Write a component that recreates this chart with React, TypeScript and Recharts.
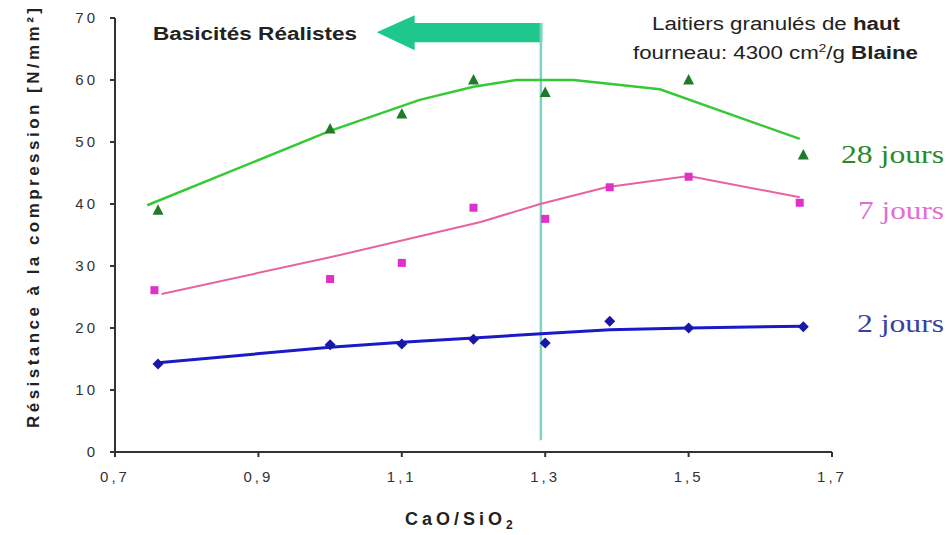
import React from 'react';
import { ScatterChart, Scatter, XAxis, YAxis, ReferenceLine, ReferenceArea, ReferenceDot } from 'recharts';

// Measured points
const xs28 = [0.76, 1.0, 1.1, 1.2, 1.3, 1.5, 1.66];
const vals28 = [39.0, 52.1, 54.5, 60.0, 58.0, 60.0, 47.9];
const xs7 = [0.755, 1.0, 1.1, 1.2, 1.3, 1.39, 1.5, 1.655];
const vals7 = [26.1, 27.9, 30.5, 39.4, 37.6, 42.7, 44.4, 40.2];
const xs2 = [0.76, 1.0, 1.1, 1.2, 1.3, 1.39, 1.5, 1.66];
const vals2 = [14.2, 17.3, 17.4, 18.2, 17.6, 21.1, 20.0, 20.2];

// Trend curves
const fitX28 = [0.745, 1.0, 1.125, 1.2, 1.26, 1.34, 1.46, 1.655];
const fitY28 = [39.8, 51.8, 56.8, 58.9, 60.0, 60.0, 58.5, 50.5];
const fitX7 = [0.765, 1.0, 1.21, 1.293, 1.385, 1.5, 1.655];
const fitY7 = [25.5, 31.4, 37.1, 40.0, 42.7, 44.5, 41.1];
const fitX2 = [0.76, 1.0, 1.1, 1.2, 1.3, 1.39, 1.5, 1.66];
const fitY2 = [14.4, 16.9, 17.7, 18.4, 19.1, 19.7, 20.0, 20.3];

const xTicks = [0.7, 0.9, 1.1, 1.3, 1.5, 1.7];
const yTicks = [0, 10, 20, 30, 40, 50, 60, 70];

const limitX = 1.294;

const zip = (xs: number[], ys: number[]) => xs.map((x, i) => ({ x, y: ys[i] }));

const pts28 = zip(xs28, vals28);
const pts7 = zip(xs7, vals7);
const pts2 = zip(xs2, vals2);
const fit28 = zip(fitX28, fitY28);
const fit7 = zip(fitX7, fitY7);
const fit2 = zip(fitX2, fitY2);

const Triangle = (p: any) => (
  <polygon points={`${p.cx},${p.cy - 6} ${p.cx - 5.5},${p.cy + 4.5} ${p.cx + 5.5},${p.cy + 4.5}`} fill="#1f7a2a" />
);
const Square = (p: any) => <rect x={p.cx - 4} y={p.cy - 4} width={8} height={8} fill="#e030c8" />;
const Diamond = (p: any) => (
  <polygon points={`${p.cx},${p.cy - 5.5} ${p.cx + 5.5},${p.cy} ${p.cx},${p.cy + 5.5} ${p.cx - 5.5},${p.cy}`} fill="#1818a8" />
);
const NoDot = () => <g />;

const ArrowHead = (p: any) => (
  <polygon points={`${p.cx},${p.cy - 17} ${p.cx},${p.cy + 18} ${p.cx - 38},${p.cy}`} fill="#1ec88c" />
);

const fmt = (v: number) => v.toFixed(1).replace('.', ',');

const tickStyle = { fill: '#333', fontSize: 15, fontFamily: 'Liberation Sans, Arial', letterSpacing: 3 };

export default function App() {
  return (
    <div style={{ position: 'absolute', left: 0, top: 0, width: 949, height: 535, background: '#fff' }}>
      <ScatterChart width={949} height={535} margin={{ top: 18, right: 117, bottom: 53, left: 55 }}>
        <XAxis
          dataKey="x"
          type="number"
          domain={[0.7, 1.7]}
          ticks={xTicks}
          tickFormatter={fmt}
          height={30}
          stroke="#333"
          strokeWidth={2}
          tickSize={5}
          tickMargin={14}
          tick={tickStyle}
          allowDataOverflow
        />
        <YAxis
          dataKey="y"
          type="number"
          domain={[0, 70]}
          ticks={yTicks}
          width={60}
          stroke="#333"
          strokeWidth={2}
          tickSize={5}
          tickMargin={12}
          tick={tickStyle}
          allowDataOverflow
        />
        <ReferenceLine segment={[{ x: limitX, y: 1.9 }, { x: limitX, y: 69.2 }]} stroke="#7fd3c4" strokeWidth={2.5} />
        <ReferenceArea x1={1.115} x2={limitX + 0.002} y1={66.1} y2={69.2} fill="#1ec88c" fillOpacity={1} stroke="none" />
        <ReferenceDot x={1.118} y={67.7} shape={ArrowHead} />
        <Scatter data={fit28} line={{ stroke: '#35c935', strokeWidth: 2.5 }} shape={NoDot} isAnimationActive={false} />
        <Scatter data={fit7} line={{ stroke: '#e8639e', strokeWidth: 2 }} shape={NoDot} isAnimationActive={false} />
        <Scatter data={fit2} line={{ stroke: '#1a1ac8', strokeWidth: 3 }} shape={NoDot} isAnimationActive={false} />
        <Scatter data={pts28} shape={Triangle} isAnimationActive={false} />
        <Scatter data={pts7} shape={Square} isAnimationActive={false} />
        <Scatter data={pts2} shape={Diamond} isAnimationActive={false} />
      </ScatterChart>
      <svg width={949} height={535} style={{ position: 'absolute', left: 0, top: 0, pointerEvents: 'none' }}>
        <text
          transform="translate(39,428) rotate(-90)"
          fontFamily="Liberation Sans, Arial"
          fontWeight="bold"
          fontSize={17}
          textLength={420}
          lengthAdjust="spacing"
          fill="#222"
        >
          Résistance à la compression [N/mm²]
        </text>
        <text x={405} y={525} fontFamily="Liberation Sans, Arial" fontWeight="bold" fontSize={18} letterSpacing={4} fill="#222">
          CaO/SiO<tspan fontSize={12} dy={4}>2</tspan>
        </text>
        <text x={153} y={40} fontFamily="Liberation Sans, Arial" fontWeight="bold" fontSize={18} textLength={204} lengthAdjust="spacingAndGlyphs" fill="#222">
          Basicités Réalistes
        </text>
        <text x={652} y={30} fontFamily="Liberation Sans, Arial" fontSize={18} textLength={248} lengthAdjust="spacingAndGlyphs" fill="#222">
          Laitiers granulés de <tspan fontWeight="bold">haut</tspan>
        </text>
        <text x={633} y={59} fontFamily="Liberation Sans, Arial" fontSize={18} textLength={285} lengthAdjust="spacingAndGlyphs" fill="#222">
          fourneau: 4300 cm<tspan fontSize={11} dy={-7}>2</tspan><tspan dy={7}>/g </tspan><tspan fontWeight="bold">Blaine</tspan>
        </text>
        <text x={841} y={163} fontFamily="Liberation Serif, Times New Roman" fontSize={25} textLength={103} lengthAdjust="spacingAndGlyphs" fill="#2a8a2a">28 jours</text>
        <text x={858} y={219} fontFamily="Liberation Serif, Times New Roman" fontSize={25} textLength={86} lengthAdjust="spacingAndGlyphs" fill="#e070d0">7 jours</text>
        <text x={857} y={332} fontFamily="Liberation Serif, Times New Roman" fontSize={25} textLength={87} lengthAdjust="spacingAndGlyphs" fill="#3a40a0">2 jours</text>
      </svg>
    </div>
  );
}
